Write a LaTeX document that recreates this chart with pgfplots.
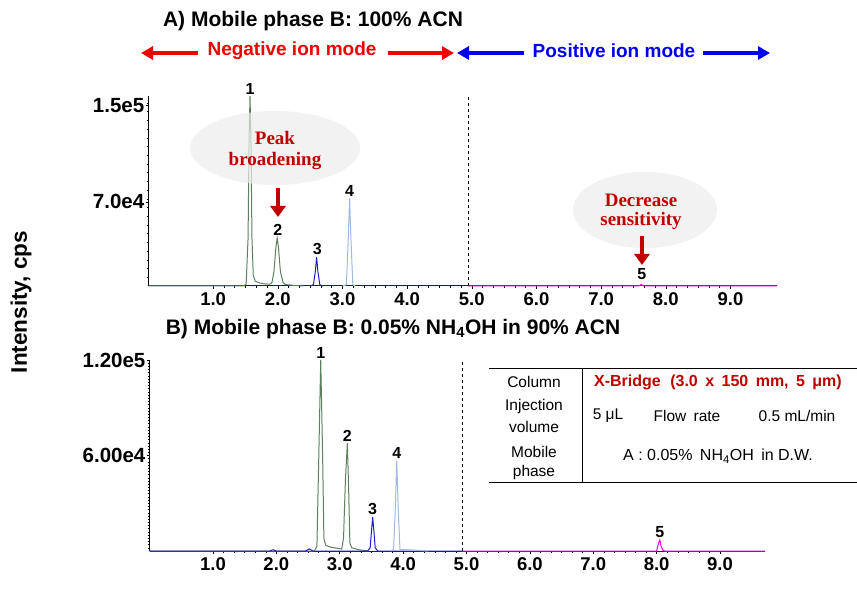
\documentclass[border=0pt]{standalone}
\usepackage{pgfplots}
\pgfplotsset{compat=1.18}
\usepackage{fontspec}
\setmainfont{Liberation Sans}
\newfontfamily\timesfont{Liberation Serif}
\usetikzlibrary{arrows.meta}

\definecolor{pkgreen}{RGB}{95,128,95}
\definecolor{pkblue}{RGB}{30,30,200}
\definecolor{pklight}{RGB}{160,185,225}
\definecolor{pkmag}{RGB}{230,0,230}
\definecolor{axisblue}{RGB}{20,20,140}
\definecolor{darkred}{RGB}{192,0,0}
\definecolor{modered}{RGB}{240,0,0}
\definecolor{modeblue}{RGB}{0,0,235}
\definecolor{bubble}{RGB}{236,236,236}

\newcommand{\fs}[1]{\fontsize{#1}{#1}\selectfont}

\pgfplotsset{chrom/.style={
  scale only axis,
  anchor=south west,
  axis lines=left,
  x axis line style={-,color=axisblue,line width=1pt},
  y axis line style={-,black,line width=0.8pt},
  tick align=outside,
  major tick length=3pt,
  minor tick length=2pt,
  tick style={black,line width=0.5pt},
  xmin=0, ymin=0,
  scaled y ticks=false,
  xtick={1,2,3,4,5,6,7,8,9},
  xticklabels={1.0,2.0,3.0,4.0,5.0,6.0,7.0,8.0,9.0},
  minor x tick num=5,
  xticklabel style={font=\bfseries\fs{18.5}},
  yticklabel style={font=\bfseries\fs{20.5}, inner sep=1pt},
  clip=false,
  every axis plot/.append style={line width=1pt, mark=none},
}}

\begin{document}
\begin{tikzpicture}
\useasboundingbox (0pt,0pt) rectangle (857pt,592pt);

% ---------- A) 100% ACN ----------
\begin{axis}[chrom,
  at={(148.5pt,306pt)}, width=628.5pt, height=190pt,
  xmax=9.72, ymax=158000,
  ytick={70000,150000}, yticklabels={7.0e4,1.5e5},
  minor ytick={7250,14500,...,157000},
]
\addplot[pkgreen] coordinates {
  (0,0) (1.47,0) (1.51,1500) (1.54,40000) (1.555,120000) (1.57,158000)
  (1.585,120000) (1.60,40000) (1.62,9000) (1.65,4000) (1.72,2500)
  (1.80,1800) (1.88,1500) (1.91,3000) (1.94,12000) (1.97,32000)
  (1.99,40000) (2.01,32000) (2.04,12000) (2.08,3000) (2.12,1200)
  (2.25,500) (2.40,0)
};
\addplot[pkblue] coordinates {
  (2.50,0) (2.55,1000) (2.58,12000) (2.60,24000) (2.62,12000) (2.65,1000) (2.70,0)
};
\addplot[pklight] coordinates {
  (3.00,0) (3.06,1000) (3.09,40000) (3.11,73000) (3.13,40000) (3.16,1000) (3.20,0)
};
\addplot[pkmag] coordinates {
  (4.94,0) (7.58,0) (7.62,1200) (7.66,0) (9.72,0)
};
\addplot[black, dashed, line width=0.7pt] coordinates {(4.94,0) (4.94,158000)};

\node[anchor=south, inner sep=1pt, font=\bfseries\fs{16}] at (1.57,158000) {1};
\node[anchor=south, inner sep=2pt, font=\bfseries\fs{16}] at (2.00,40000) {2};
\node[anchor=south, inner sep=2pt, font=\bfseries\fs{16}] at (2.61,24000) {3};
\node[anchor=south, inner sep=2pt, font=\bfseries\fs{16}] at (3.11,73000) {4};
\node[anchor=south, inner sep=1pt, font=\bfseries\fs{16}] at (7.63,4500) {5};
\end{axis}

% ---------- B) 0.05% NH4OH in 90% ACN ----------
\begin{axis}[chrom,
  at={(149.6pt,41pt)}, width=615.4pt, height=191pt,
  xmax=9.71, ymax=120000,
  ytick={60000,120000}, yticklabels={6.00e4,1.20e5},
  minor ytick={2000,4000,...,118000},
]
\addplot[pkgreen] coordinates {
  (0,0) (2.60,0) (2.64,3000) (2.67,60000) (2.70,120000) (2.73,60000)
  (2.75,8000) (2.78,3500) (2.85,2500) (2.95,1800) (3.03,1200)
  (3.06,8000) (3.09,45000) (3.12,67700) (3.14,40000) (3.16,5000)
  (3.19,2000) (3.30,800) (3.45,0)
};
\addplot[pkblue] coordinates {
  (0,0) (1.90,0) (1.95,800) (2.00,0) (2.46,0) (2.52,1300) (2.58,0)
  (3.44,0) (3.48,2000) (3.50,12000) (3.52,21200) (3.54,12000)
  (3.56,2000) (3.60,0) (4.93,0)
};
\addplot[pklight] coordinates {
  (3.80,0) (3.85,1000) (3.88,30000) (3.90,56700) (3.92,30000) (3.95,1000) (4.20,500) (4.40,0)
};
\addplot[pkmag] coordinates {
  (4.93,0) (8.00,0) (8.03,5000) (8.05,6900) (8.07,3000) (8.10,500) (8.13,0) (9.71,0)
};
\addplot[black, dashed, line width=0.7pt] coordinates {(4.93,0) (4.93,120000)};

\node[anchor=south, inner sep=1pt, font=\bfseries\fs{16}] at (2.70,120000) {1};
\node[anchor=south, inner sep=2pt, font=\bfseries\fs{16}] at (3.12,67700) {2};
\node[anchor=south, inner sep=2pt, font=\bfseries\fs{16}] at (3.52,21200) {3};
\node[anchor=south, inner sep=2pt, font=\bfseries\fs{16}] at (3.90,56700) {4};
\node[anchor=south, inner sep=2pt, font=\bfseries\fs{16}] at (8.05,6900) {5};
\end{axis}

% ---------- titles and annotations ----------
\node[font=\bfseries\fs{21}] at (313pt,571pt) {A) Mobile phase B: 100\% ACN};
\node[font=\bfseries\fs{21}] at (393pt,263pt) {B) Mobile phase B: 0.05\% NH\textsubscript{4}OH in 90\% ACN};
\node[font=\bfseries\fs{22.5}, rotate=90] at (21pt,290pt) {Intensity, cps};

% ion mode arrows
\draw[modered, line width=4pt, -{Triangle[length=12pt,width=13pt]}] (198pt,539pt) -- (141pt,539pt);
\draw[modered, line width=4pt, -{Triangle[length=12pt,width=13pt]}] (388pt,539pt) -- (454pt,539pt);
\node[modered, font=\bfseries\fs{19}] at (292pt,541pt) {Negative ion mode};
\draw[modeblue, line width=4pt, -{Triangle[length=12pt,width=13pt]}] (524pt,539pt) -- (457pt,539pt);
\draw[modeblue, line width=4pt, -{Triangle[length=12pt,width=13pt]}] (703pt,539pt) -- (770pt,539pt);
\node[modeblue, font=\bfseries\fs{19}] at (614pt,541pt) {Positive ion mode};

% bubbles
\fill[bubble, opacity=0.7] (275pt,444pt) ellipse [x radius=85pt, y radius=37pt];
\node[darkred, font=\timesfont\bfseries\fs{19}] at (275pt,454pt) {Peak};
\node[darkred, font=\timesfont\bfseries\fs{19}] at (275pt,431pt) {broadening};
\draw[darkred, line width=4.5pt, -{Triangle[length=11pt,width=15pt]}] (278pt,404pt) -- (278pt,375pt);

\fill[bubble, opacity=0.7] (645pt,382pt) ellipse [x radius=72pt, y radius=38pt];
\node[darkred, font=\timesfont\bfseries\fs{19}] at (641pt,392pt) {Decrease};
\node[darkred, font=\timesfont\bfseries\fs{19}] at (641pt,371pt) {sensitivity};
\draw[darkred, line width=4.5pt, -{Triangle[length=11pt,width=15pt]}] (642pt,356pt) -- (642pt,327pt);

% conditions table
\draw[black, line width=1pt] (489pt,223pt) -- (857pt,223pt);
\draw[black, line width=1pt] (489pt,109pt) -- (857pt,109pt);
\draw[black, line width=1pt] (582pt,223pt) -- (582pt,109pt);
\node[font=\fs{15.5}] at (534pt,210pt) {Column};
\node[darkred, font=\bfseries\fs{16}] at (718pt,210pt) {X-Bridge\hspace{5pt} (3.0\hspace{3pt} x\hspace{3pt} 150\hspace{3pt} mm,\hspace{3pt} 5\hspace{3pt} μm)};
\node[font=\fs{15.5}] at (534pt,186pt) {Injection};
\node[font=\fs{15.5}] at (534pt,165pt) {volume};
\node[font=\fs{15.5}] at (608pt,176pt) {5 μL};
\node[font=\fs{15.5}] at (687pt,176pt) {Flow\hspace{3pt} rate};
\node[font=\fs{15.5}] at (797pt,176pt) {0.5 mL/min};
\node[font=\fs{15.5}] at (534pt,140pt) {Mobile};
\node[font=\fs{15.5}] at (534pt,120pt) {phase};
\node[font=\fs{16}] at (718pt,136pt) {A : 0.05\%\hspace{3pt} NH\textsubscript{4}OH\hspace{3pt} in D.W.};
\end{tikzpicture}
\end{document}
